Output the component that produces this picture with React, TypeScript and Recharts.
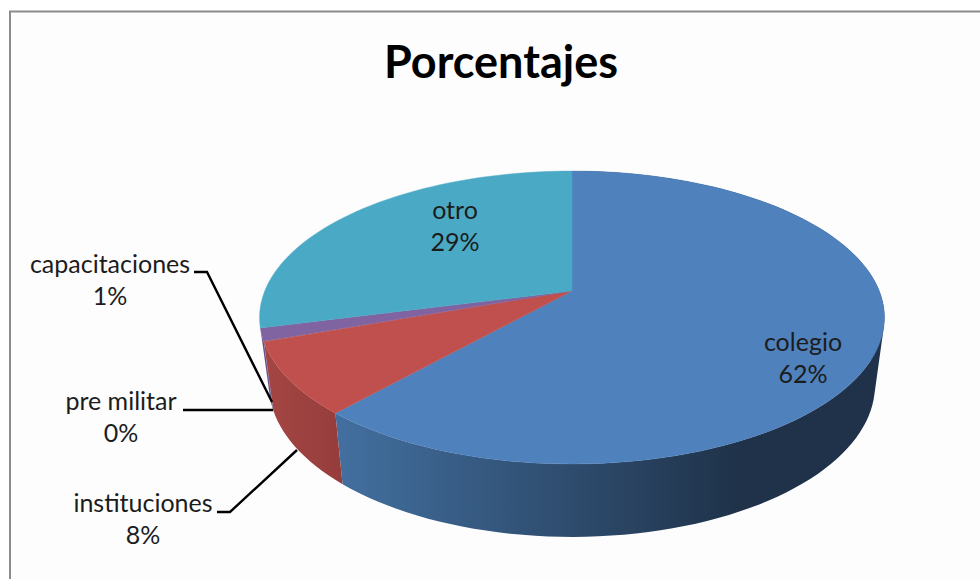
import React from "react";
import { PieChart, Pie } from "recharts";

const categories = ["colegio", "instituciones", "pre militar", "capacitaciones", "otro"];
const shares = [61.6, 7.9, 0.1, 1.4, 29];
const topColors = ["#4f81bd", "#c0504d", "#c0504d", "#8064a2", "#4aaac5"];
const wallColors = ["url(#wallBlue)", "url(#wallRed)", "#66508a", "#66508a", "none"];

const labelCenterX = [803, 143, 121, 110, 455];
const labelBaseY = [351, 512, 410, 273, 219];
const leaders = [
  "",
  "M217 512 H230 L297 450",
  "M183 410 H273",
  "M194 272 H207 L272 402",
  "",
];

const topData = categories.map((name, i) => ({ name, value: shares[i], fill: topColors[i] }));
const wallData = categories.map((name, i) => ({ name, value: shares[i], fill: wallColors[i] }));

const PERSPECTIVE = 0.181;
const TOP_SQUASH = 0.461;
const BASE_SQUASH = 0.493;
const BASE_CY = 357.5;
const BASE_R = 298;
const RAD = Math.PI / 180;

const project = (cx: number, cy: number, r: number, k: number, deg: number) => {
  const u = Math.cos(deg * RAD);
  const v = Math.sin(deg * RAD);
  const d = 1 + PERSPECTIVE * v;
  return [cx + (r * u) / d, cy - (r * k * v) / d];
};

const TopSector = (p: any) => {
  const { cx, cy, outerRadius, startAngle, endAngle, fill } = p;
  const steps = Math.max(2, Math.ceil(Math.abs(endAngle - startAngle) / 2));
  let d = `M${cx} ${cy}`;
  for (let i = 0; i <= steps; i++) {
    const a = startAngle + ((endAngle - startAngle) * i) / steps;
    const [x, y] = project(cx, cy, outerRadius, TOP_SQUASH, a);
    d += ` L${x.toFixed(2)} ${y.toFixed(2)}`;
  }
  return <path d={d + " Z"} fill={fill} stroke={fill} strokeWidth={0.4} />;
};

// Drawn by the pie whose circle is the lower rim; the upper rim comes from the same angles.
const WallSector = (p: any) => {
  const { cx, cy, outerRadius, startAngle, endAngle, fill } = p;
  if (fill === "none") return <g />;
  const upperCy = cy - (BASE_CY - 291);
  const upperR = 307.3;
  const steps = Math.max(1, Math.ceil(Math.abs(endAngle - startAngle) / 2));
  let d = "";
  for (let i = 0; i < steps; i++) {
    const a0 = startAngle + ((endAngle - startAngle) * i) / steps;
    const a1 = startAngle + ((endAngle - startAngle) * (i + 1)) / steps;
    const q = [
      project(cx, upperCy, upperR, TOP_SQUASH, a0),
      project(cx, upperCy, upperR, TOP_SQUASH, a1),
      project(cx, cy, outerRadius, BASE_SQUASH, a1),
      project(cx, cy, outerRadius, BASE_SQUASH, a0),
    ];
    let area = 0;
    q.forEach((pt, j) => {
      const nx = q[(j + 1) % 4];
      area += pt[0] * nx[1] - nx[0] * pt[1];
    });
    if (area < 0) q.reverse();
    d += "M" + q.map((pt) => `${pt[0].toFixed(2)} ${pt[1].toFixed(2)}`).join(" L") + " Z ";
  }
  return <path d={d} fill={fill} fillRule="nonzero" />;
};

const SliceLabel = (p: any) => {
  const i = categories.indexOf(p.name);
  const pct = Math.round(p.percent * 100);
  return (
    <g>
      {leaders[i] ? <path d={leaders[i]} fill="none" stroke="#000" strokeWidth={2.4} /> : null}
      <text
        x={labelCenterX[i]}
        y={labelBaseY[i]}
        textAnchor="middle"
        fontFamily="Lato, 'Open Sans', sans-serif"
        fontSize={25}
        fill="#1c1c1c"
      >
        {p.name}
      </text>
      <text
        x={labelCenterX[i]}
        y={labelBaseY[i] + 32}
        textAnchor="middle"
        fontFamily="Lato, 'Open Sans', sans-serif"
        fontSize={25}
        fill="#1c1c1c"
      >
        {pct}%
      </text>
    </g>
  );
};

export default function App() {
  return (
    <div style={{ position: "absolute", left: 0, top: 0, width: 980, height: 579, overflow: "hidden", background: "#fff" }}>
      <PieChart width={980} height={579} margin={{ top: 0, right: 0, bottom: 0, left: 0 }}>
        <defs>
          <linearGradient id="wallBlue" gradientUnits="userSpaceOnUse" x1={340} y1={0} x2={740} y2={0}>
            <stop offset="0" stopColor="#426f9f" />
            <stop offset="1" stopColor="#1f3249" />
          </linearGradient>
          <linearGradient id="wallRed" gradientUnits="userSpaceOnUse" x1={270} y1={0} x2={345} y2={0}>
            <stop offset="0" stopColor="#a34543" />
            <stop offset="1" stopColor="#953d3b" />
          </linearGradient>
        </defs>
        <rect x={0} y={0} width={980} height={579} fill="#fff" />
        <rect x={10} y={11.5} width={1100} height={800} fill="#fdfdfd" stroke="#8c8c8c" strokeWidth={2} />
        <text
          x={501}
          y={78}
          textAnchor="middle"
          fontFamily="Lato, 'Open Sans', sans-serif"
          fontWeight={700}
          fontSize={45}
          fill="#000"
        >
          Porcentajes
        </text>
        <Pie
          data={wallData}
          dataKey="value"
          nameKey="name"
          cx={572}
          cy={BASE_CY}
          outerRadius={BASE_R}
          startAngle={90}
          endAngle={-270}
          stroke="none"
          isAnimationActive={false}
          shape={WallSector}
          activeShape={WallSector}
        />
        <Pie
          data={topData}
          dataKey="value"
          nameKey="name"
          cx={572}
          cy={291}
          outerRadius={307.3}
          startAngle={90}
          endAngle={-270}
          stroke="none"
          isAnimationActive={false}
          shape={TopSector}
          activeShape={TopSector}
          label={SliceLabel}
          labelLine={false}
        />
      </PieChart>
    </div>
  );
}
